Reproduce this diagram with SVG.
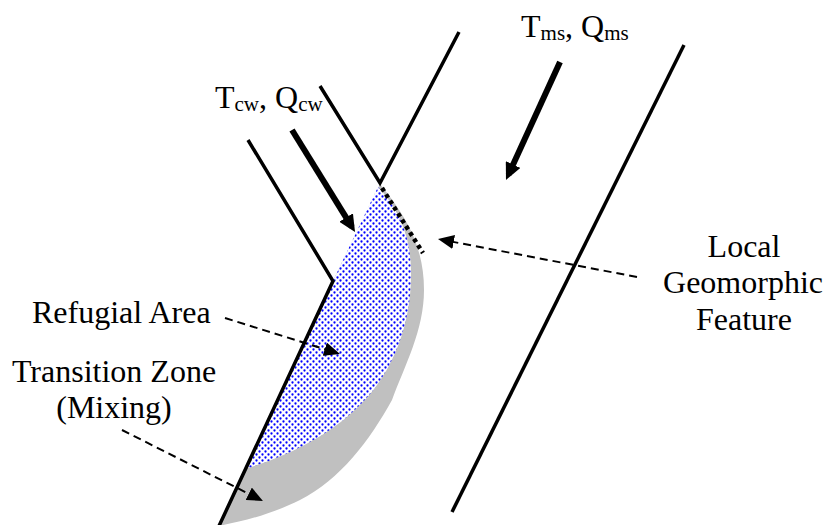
<svg xmlns="http://www.w3.org/2000/svg" width="827" height="525" viewBox="0 0 827 525">
<style>
.lbl{font-size:32px;fill:#000}
.sub{font-size:21px}
.bank{fill:none;stroke:#000;stroke-width:3.5;stroke-linejoin:miter;stroke-linecap:butt}
.flow{fill:none;stroke:#000;stroke-width:6;marker-end:url(#bigHead)}
.ptr{fill:none;stroke:#000;stroke-width:2;stroke-dasharray:8 5;marker-end:url(#smallHead)}
.feature{fill:none;stroke:#000;stroke-width:4.5;stroke-dasharray:4 3.5}
</style>
<defs>
<pattern id="dots" width="6" height="6" patternUnits="userSpaceOnUse">
<rect width="6" height="6" fill="#fff"/>
<circle cx="1.5" cy="1.5" r="1.15" fill="#0000ff"/>
<circle cx="4.5" cy="4.5" r="1.15" fill="#0000ff"/>
</pattern>
<marker id="bigHead" markerUnits="userSpaceOnUse" markerWidth="17" markerHeight="16" refX="11" refY="8" orient="auto">
<path d="M0,0 L17,8 L0,16 z" fill="#000"/>
</marker>
<marker id="smallHead" markerUnits="userSpaceOnUse" markerWidth="16" markerHeight="14" refX="12" refY="7" orient="auto">
<path d="M0,0 L16,7 L0,14 z" fill="#000"/>
</marker>
</defs>
<g id="transition-zone">
<path d="M380,184 C405,215 424,245 424,290 C424,330 405,365 392,400 C370,440 340,480 300,500 C270,515 240,522 218,526 L333,281 Z" fill="#c0c0c0"/>
</g>
<g id="refugial-area">
<path d="M378,187 C395,205 410,230 411,270 C412,320 395,370 360,405 C330,435 290,455 248,468 L333,281 Z" fill="url(#dots)"/>
</g>
<g id="geomorphic-feature">
<line class="feature" x1="382" y1="188" x2="423" y2="253"/>
</g>
<g id="tributary-upper-bank">
<polyline class="bank" points="320,86 380,183 459,32"/>
</g>
<g id="tributary-lower-bank">
<polyline class="bank" points="248,140 333,281 219,526"/>
</g>
<g id="main-right-bank">
<line class="bank" x1="684" y1="45" x2="452" y2="512"/>
</g>
<g font-family="'Liberation Serif', 'Times New Roman', Times, serif">
<g id="label-ms">
<text class="lbl" x="521" y="37">T<tspan class="sub" dy="3">ms</tspan><tspan dy="-3">, Q</tspan><tspan class="sub" dy="3">ms</tspan></text>
</g>
<g id="label-cw">
<text class="lbl" x="215" y="108">T<tspan class="sub" dy="3">cw</tspan><tspan dy="-3">, Q</tspan><tspan class="sub" dy="3">cw</tspan></text>
</g>
<g id="label-refugial">
<text class="lbl" x="32" y="323">Refugial Area</text>
</g>
<g id="label-transition">
<text class="lbl" x="114" y="382" text-anchor="middle">Transition Zone</text>
<text class="lbl" x="114" y="418" text-anchor="middle">(Mixing)</text>
</g>
<g id="label-local">
<text class="lbl" x="744" y="257" text-anchor="middle">Local</text>
<text class="lbl" x="743" y="293" text-anchor="middle">Geomorphic</text>
<text class="lbl" x="744" y="330" text-anchor="middle">Feature</text>
</g>
</g>
<g id="connectors">
<line class="flow" x1="292" y1="130" x2="351.9" y2="226.9"/>
<line class="flow" x1="560" y1="62" x2="508.5" y2="174.5"/>
<line class="ptr" x1="225" y1="318" x2="336.2" y2="352.8"/>
<line class="ptr" x1="122" y1="430" x2="259.4" y2="499.2"/>
<line class="ptr" x1="637" y1="277" x2="441.9" y2="239.75"/>
</g>
</svg>
